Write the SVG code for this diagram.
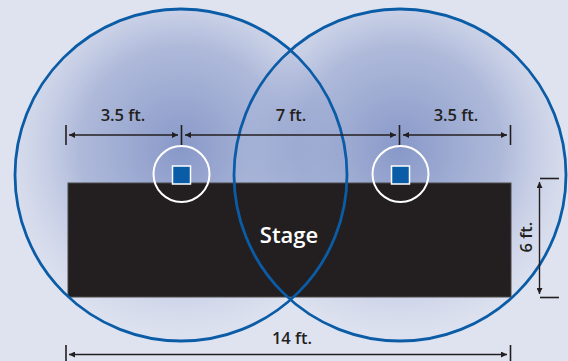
<svg xmlns="http://www.w3.org/2000/svg" width="568" height="361" viewBox="0 0 568 361">
<style>
.zone{stroke:#0b5ca6;stroke-width:2.8}
.dim{stroke:#231f20;stroke-width:1.4;fill:none}
.tick{stroke:#231f20;stroke-width:1.6}
.lbl{font-family:"Open Sans","Lato","Liberation Sans",sans-serif;font-weight:600;font-size:16.5px;fill:#231f20;text-anchor:middle}
.spk-ring{fill:none;stroke:#ffffff;stroke-width:2}
.spk{fill:#0b5ca6;stroke:#ffffff;stroke-width:1.5}
</style>
<defs>
<radialGradient id="g" cx="0.5" cy="0.42" r="0.56">
<stop offset="0" stop-color="#6f83bd" stop-opacity="0.78"/>
<stop offset="0.55" stop-color="#7e90c4" stop-opacity="0.5"/>
<stop offset="1" stop-color="#c5cde6" stop-opacity="0.12"/>
</radialGradient>
<marker id="ah" viewBox="0 0 10 10" refX="10" refY="5" markerWidth="8" markerHeight="6" markerUnits="userSpaceOnUse" orient="auto-start-reverse">
<path d="M0,0 L10,5 L0,10 z" fill="#231f20"/>
</marker>
</defs>
<rect width="568" height="361" fill="#dfe3f0"/>
<g id="zone-left"><circle cx="181" cy="175" r="166" fill="url(#g)"/></g>
<g id="zone-right"><circle cx="400" cy="175" r="166" fill="url(#g)"/></g>
<g id="stage">
<rect x="68" y="183" width="443" height="114" fill="#231f20" stroke="#4a4849" stroke-width="1"/>
</g>
<g id="zone-outlines">
<circle cx="181" cy="175" r="166" fill="none" class="zone"/>
<circle cx="400" cy="175" r="166" fill="none" class="zone"/>
</g>
<g id="stage-label">
<text x="289" y="243" style="font-family:'Open Sans','Lato','Liberation Sans',sans-serif;font-weight:600;font-size:22px;fill:#ffffff;text-anchor:middle">Stage</text>
</g>
<g id="speaker-left">
<circle cx="181.5" cy="174" r="28" class="spk-ring"/>
<rect x="172.5" y="166" width="18" height="18" class="spk"/>
</g>
<g id="speaker-right">
<circle cx="400.5" cy="174" r="28" class="spk-ring"/>
<rect x="391.5" y="166" width="18" height="18" class="spk"/>
</g>
<g id="connectors">
<line x1="66" y1="125" x2="66" y2="145" class="tick"/>
<line x1="181.5" y1="125" x2="181.5" y2="145" class="tick"/>
<line x1="399.5" y1="125" x2="399.5" y2="145" class="tick"/>
<line x1="510.5" y1="125" x2="510.5" y2="145" class="tick"/>
<line x1="69" y1="135" x2="178" y2="135" class="dim" marker-start="url(#ah)" marker-end="url(#ah)"/>
<line x1="185" y1="135" x2="396" y2="135" class="dim" marker-start="url(#ah)" marker-end="url(#ah)"/>
<line x1="403" y1="135" x2="507" y2="135" class="dim" marker-start="url(#ah)" marker-end="url(#ah)"/>
<line x1="66" y1="345" x2="66" y2="361" class="tick"/>
<line x1="510.5" y1="345" x2="510.5" y2="361" class="tick"/>
<line x1="69" y1="354.5" x2="507" y2="354.5" class="dim" marker-start="url(#ah)" marker-end="url(#ah)"/>
<line x1="540" y1="178.5" x2="559" y2="178.5" class="tick"/>
<line x1="540" y1="297.5" x2="559" y2="297.5" class="tick"/>
<line x1="539.5" y1="182" x2="539.5" y2="294" class="dim" marker-start="url(#ah)" marker-end="url(#ah)"/>
</g>
<g id="labels">
<text x="123" y="121" class="lbl">3.5 ft.</text>
<text x="291" y="121" class="lbl">7 ft.</text>
<text x="456" y="121" class="lbl">3.5 ft.</text>
<text x="292" y="344" class="lbl">14 ft.</text>
<text x="0" y="0" class="lbl" transform="translate(532 237) rotate(-90)">6 ft.</text>
</g>
</svg>
